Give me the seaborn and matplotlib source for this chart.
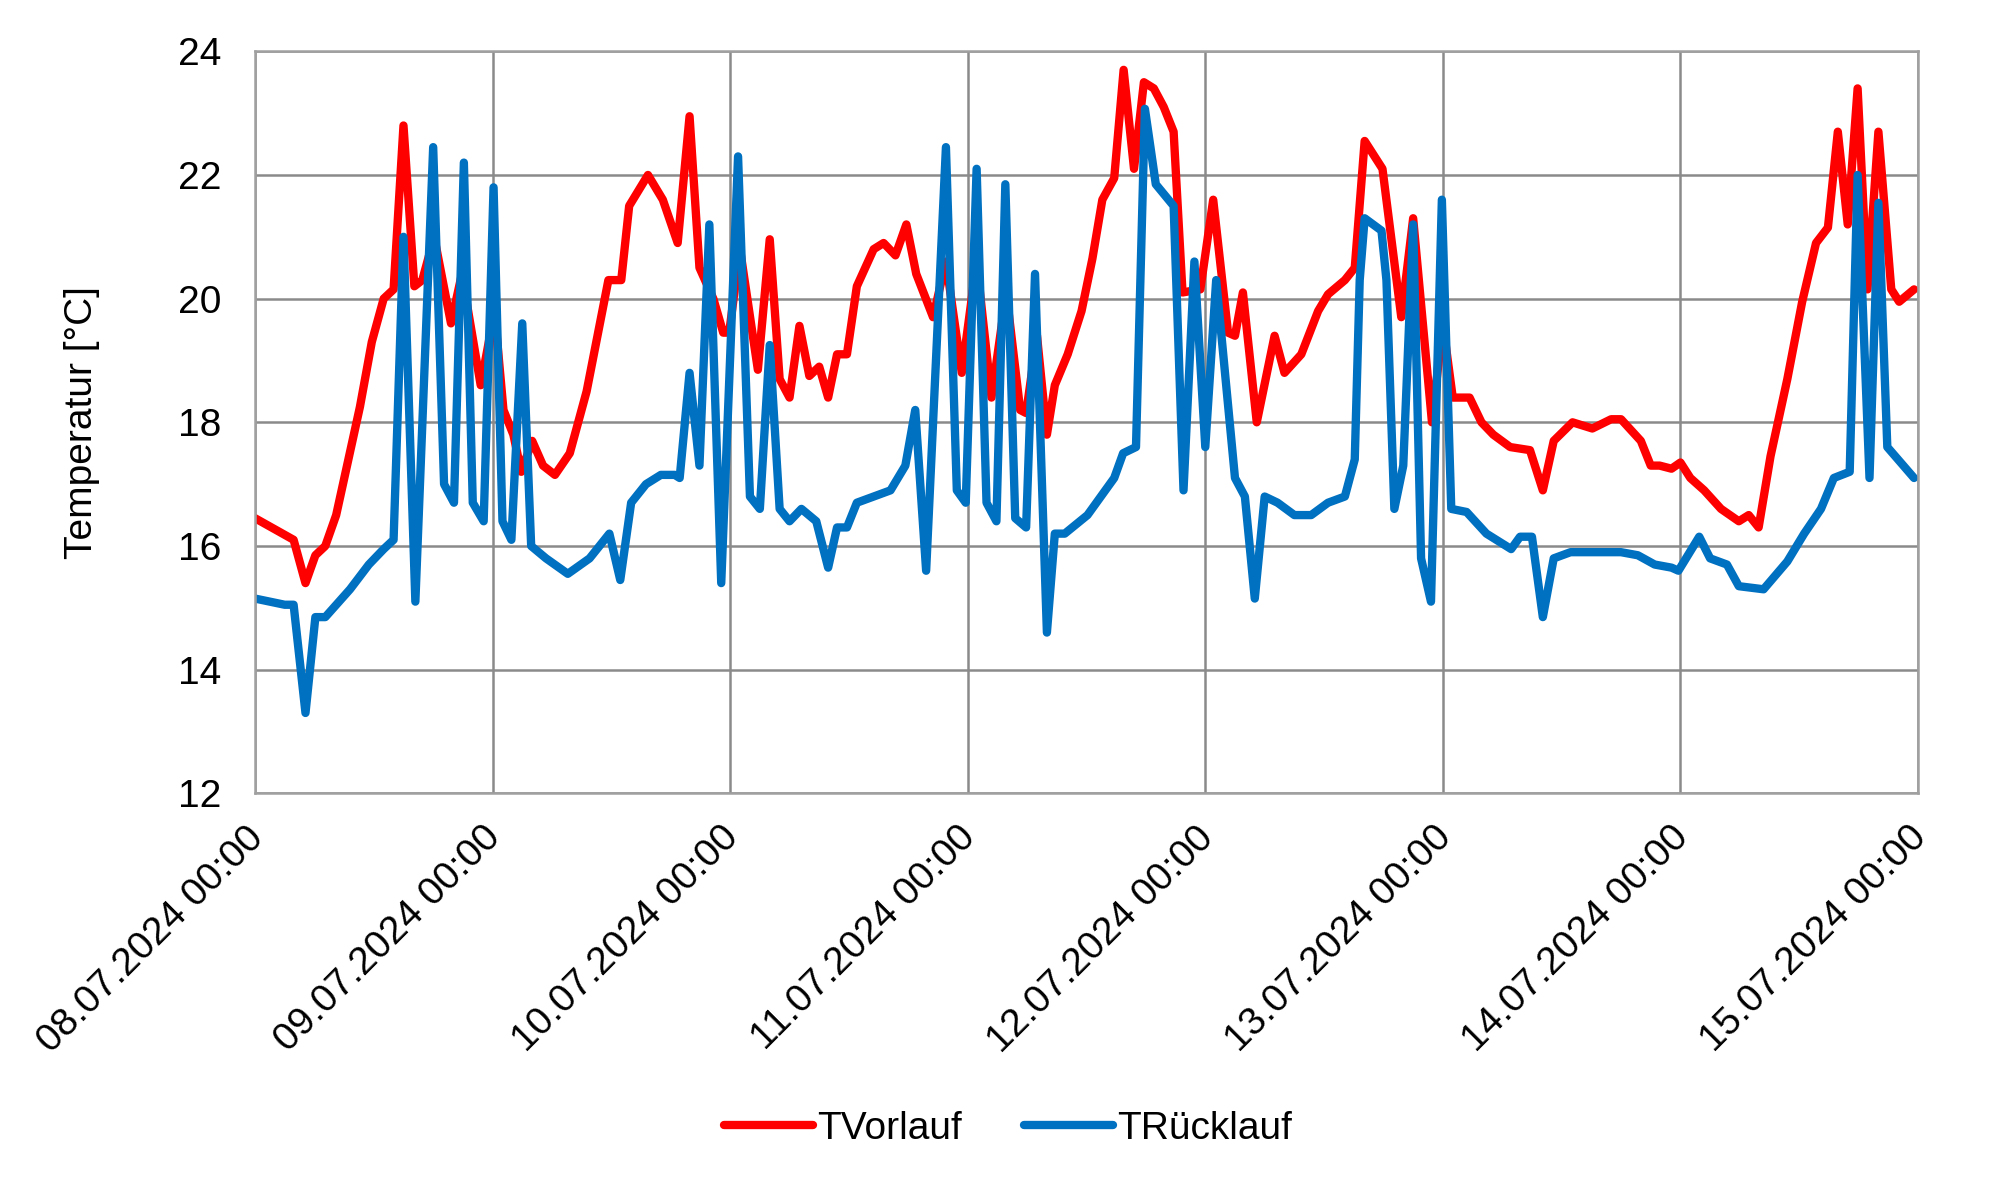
import pandas as pd
import numpy as np
import seaborn as sns
import matplotlib.pyplot as plt
import matplotlib.dates as mdates
from matplotlib.transforms import ScaledTranslation

# hours since 08.07.2024 00:00
vor_hours = [0.0, 3.9, 5.1, 6.1, 7.1, 8.2, 9.3, 10.6, 11.8, 13.0, 14.0, 15.0, 16.1, 16.9, 18.1,
             19.8, 20.9, 22.8, 24.2, 25.1, 26.1, 26.9, 28.0, 29.1, 30.3, 31.8, 33.5, 35.7, 37.0,
             37.8, 39.7, 41.2, 42.7, 43.9, 44.9, 46.3, 47.3, 47.9, 49.0, 50.8, 52.0, 53.0, 54.0,
             55.0, 56.0, 57.0, 57.9, 58.8, 59.8, 60.8, 62.5, 63.5, 64.7, 65.8, 66.8, 68.5, 69.8,
             71.4, 72.9, 74.4, 75.9, 77.3, 77.9, 79.0, 80.0, 80.8, 82.1, 83.5, 84.6, 85.6, 86.8,
             87.75, 88.8, 89.8, 90.8, 91.8, 92.8, 93.7, 95.5, 96.8, 98.3, 99.0, 99.8, 101.2, 103.0,
             104.0, 105.7, 107.4, 108.4, 110.1, 111.1, 112.1, 113.9, 115.8, 117.0, 118.9, 120.0,
             121.0, 122.7, 123.9, 125.1, 126.8, 128.8, 130.1, 131.2, 133.1, 135.1, 137.0, 138.0,
             140.0, 141.0, 141.9, 143.1, 144.0, 145.0, 146.4, 148.1, 149.9, 150.9, 151.9, 153.1,
             154.8, 156.3, 157.7, 158.9, 159.9, 160.9, 161.9, 162.9, 164.0, 165.3, 166.1, 167.6]
vor_temp = [16.45, 16.1, 15.4, 15.85, 16.0, 16.5, 17.3, 18.25, 19.3, 20.0, 20.15, 22.8, 20.2, 20.3, 21.0,
            19.6, 20.4, 18.6, 19.8, 18.2, 17.8, 17.2, 17.7, 17.3, 17.15, 17.5, 18.5, 20.3, 20.3,
            21.5, 22.0, 21.6, 20.9, 22.95, 20.5, 20.0, 19.45, 19.45, 20.8, 18.85, 20.96, 18.7, 18.4,
            19.56, 18.75, 18.9, 18.4, 19.1, 19.1, 20.2, 20.8, 20.9, 20.7, 21.2, 20.4, 19.7, 20.6,
            18.8, 20.6, 18.4, 20.1, 18.2, 18.15, 19.4, 17.8, 18.6, 19.1, 19.8, 20.65, 21.6, 21.95,
            23.7, 22.1, 23.5, 23.4, 23.1, 22.7, 20.1, 20.15, 21.6, 19.45, 19.4, 20.1, 18.0, 19.4,
            18.8, 19.1, 19.8, 20.07, 20.3, 20.5, 22.55, 22.1, 19.7, 21.3, 18.0, 19.6,
            18.4, 18.4, 18.0, 17.8, 17.6, 17.55, 16.9, 17.7, 18.0, 17.9, 18.05, 18.05,
            17.7, 17.3, 17.3, 17.25, 17.35, 17.1, 16.9, 16.6, 16.4, 16.5, 16.3, 17.45,
            18.7, 19.95, 20.9, 21.15, 22.7, 21.2, 23.4, 20.15, 22.7, 20.15, 19.95, 20.15]

rueck_hours = [0.0, 3.0, 3.9, 5.1, 6.1, 7.1, 9.6, 11.5, 13.0, 14.0, 15.0, 16.2, 18.0, 19.1, 20.1,
               21.1, 22.0, 23.1, 24.1, 25.0, 25.9, 27.0, 27.9, 29.4, 31.6, 33.8, 35.8, 36.9, 38.0,
               39.5, 41.0, 42.4, 42.9, 43.9, 44.9, 45.9, 47.1, 48.8, 50.0, 51.0, 52.0, 53.0, 54.0,
               55.2, 56.7, 57.9, 58.8, 59.8, 60.8, 62.5, 64.2, 65.7, 66.7, 67.8, 69.8, 70.9, 71.8,
               72.9, 73.9, 74.9, 75.8, 76.8, 77.9, 78.8, 80.0, 80.8, 81.8, 84.1, 86.8, 87.7, 89.0,
               89.9, 91.0, 92.8, 93.8, 94.9, 96.0, 97.1, 99.0, 100.0, 101.0, 102.0, 103.3, 105.0,
               106.7, 108.4, 110.1, 111.1, 111.6, 112.1, 113.8, 114.3, 115.1, 116.0, 117.0, 117.8,
               118.8, 119.9, 120.85, 122.4, 124.4, 126.9, 127.8, 129.0, 130.1, 131.2, 132.9, 134.6,
               138.0, 139.7, 141.4, 143.1, 143.8, 145.9, 147.0, 148.7, 149.9, 152.4, 154.8, 156.5,
               158.2, 159.5, 161.1, 161.9, 163.1, 164.0, 164.9, 167.6]
rueck_temp = [15.15, 15.05, 15.05, 13.3, 14.85, 14.85, 15.3, 15.7, 15.95, 16.1, 21.0, 15.1, 22.45, 17.0, 16.7,
              22.2, 16.7, 16.4, 21.8, 16.4, 16.1, 19.6, 16.0, 15.8, 15.55, 15.8, 16.2, 15.45, 16.7,
              17.0, 17.15, 17.15, 17.1, 18.8, 17.3, 21.2, 15.4, 22.3, 16.8, 16.6, 19.25, 16.6, 16.4,
              16.6, 16.4, 15.65, 16.3, 16.3, 16.7, 16.8, 16.9, 17.3, 18.2, 15.6, 22.45, 16.9, 16.7,
              22.1, 16.7, 16.4, 21.85, 16.45, 16.3, 20.4, 14.6, 16.2, 16.2, 16.5, 17.1, 17.5, 17.6,
              23.07, 21.85, 21.5, 16.9, 20.6, 17.6, 20.3, 17.1, 16.8, 15.15, 16.8, 16.7, 16.5,
              16.5, 16.7, 16.8, 17.4, 20.3, 21.3, 21.1, 20.3, 16.6, 17.3, 21.2, 15.8,
              15.1, 21.6, 16.6, 16.55, 16.2, 15.95, 16.15, 16.15, 14.85, 15.8, 15.9, 15.9,
              15.9, 15.85, 15.7, 15.65, 15.6, 16.15, 15.8, 15.7, 15.35, 15.3, 15.75, 16.2,
              16.6, 17.1, 17.2, 22.0, 17.1, 21.55, 17.6, 17.1]

series_names = ["TVorlauf", "TRücklauf"]
series_colors = ["#FF0000", "#0070C0"]

start = pd.Timestamp("2024-07-08")
df = pd.concat([
    pd.DataFrame({"time": start + pd.to_timedelta(vor_hours, unit="h"),
                  "temp": vor_temp, "serie": series_names[0]}),
    pd.DataFrame({"time": start + pd.to_timedelta(rueck_hours, unit="h"),
                  "temp": rueck_temp, "serie": series_names[1]}),
], ignore_index=True)

sns.set_style("whitegrid")
plt.rcParams["font.family"] = ["Liberation Sans", "DejaVu Sans"]

fig, ax = plt.subplots(figsize=(20, 11.93), dpi=100)
fig.subplots_adjust(left=0.1275, right=0.959, top=0.957, bottom=0.335)

sns.lineplot(data=df, x="time", y="temp", hue="serie", palette=series_colors,
             linewidth=6, ax=ax, sort=False, estimator=None)
for ln in ax.get_lines():
    ln.set_solid_joinstyle("round")
    ln.set_solid_capstyle("round")

ax.set_xlim(start, start + pd.Timedelta(days=7))
ax.set_ylim(12, 24)
ax.set_yticks(range(12, 25, 2))
ax.xaxis.set_major_locator(mdates.DayLocator())
ax.xaxis.set_major_formatter(mdates.DateFormatter("%d.%m.%Y %H:%M"))

ax.grid(True, color="#8a8a8a", linewidth=1.8)
for s in ax.spines.values():
    s.set_color("#a0a0a0")
    s.set_linewidth(1.8)

ax.tick_params(axis="y", length=0, pad=24, labelsize=28, labelcolor="black")
ax.tick_params(axis="x", length=0, pad=16, labelsize=28, labelcolor="black")
shift = ScaledTranslation(-10 / 100, -4 / 100, fig.dpi_scale_trans)
for lbl in ax.get_xticklabels():
    lbl.set_rotation(45)
    lbl.set_ha("right")
    lbl.set_rotation_mode("anchor")
    lbl.set_transform(lbl.get_transform() + shift)

ax.set_xlabel("")
ax.set_ylabel("Temperatur [°C]", fontsize=28, labelpad=56, color="black")

handles, labels = ax.get_legend_handles_labels()
ax.get_legend().remove()
leg = fig.legend(handles, labels, loc="center", bbox_to_anchor=(0.504, 0.054), ncol=2,
                 frameon=False, fontsize=28, handlelength=2.3, handletextpad=0.1,
                 columnspacing=1.6)
for t in leg.get_texts():
    t.set_color("black")

plt.savefig("out.png", dpi=100)
plt.close()
